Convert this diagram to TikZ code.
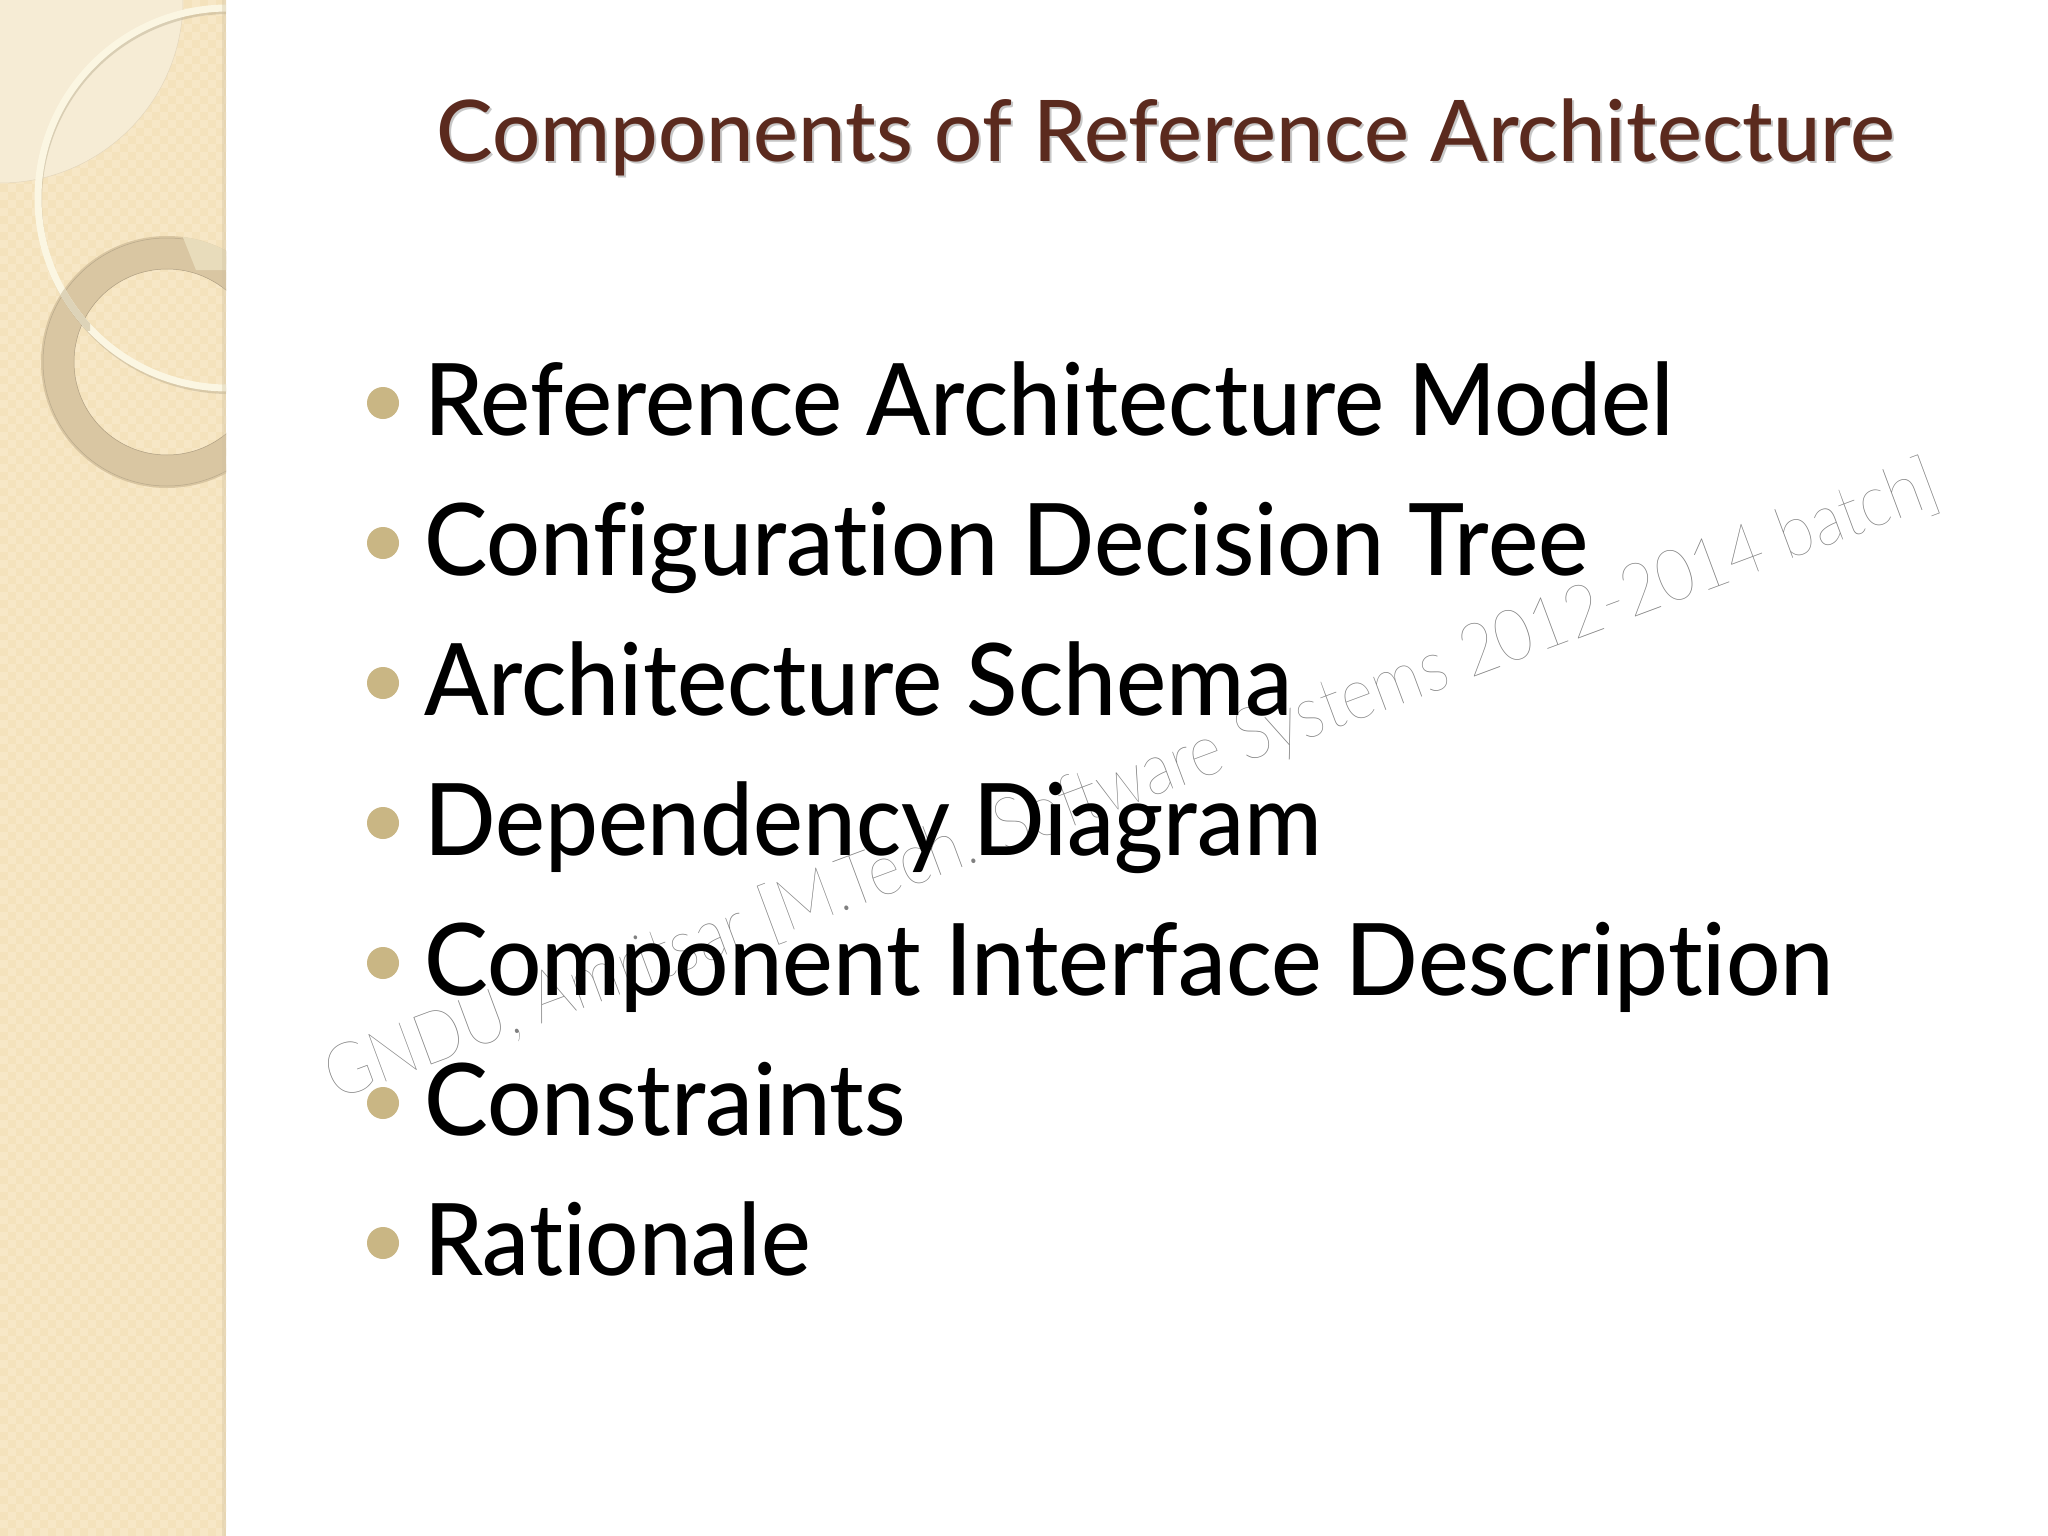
\documentclass[tikz,border=0pt]{standalone}
\usepackage{graphicx}
\usepackage{fontspec}
\setmainfont[Ligatures=NoCommon]{Lato Medium}
\newfontfamily\wmfont{Lato Hairline}
\definecolor{side}{HTML}{F4E2BC}
\definecolor{sidelt}{HTML}{F7E7C6}
\definecolor{corner}{HTML}{F6ECD5}
\definecolor{ringw}{HTML}{FBF6E2}
\definecolor{ringb}{HTML}{D9C6A2}
\definecolor{ringlt}{HTML}{E8DCBB}
\definecolor{ringmix}{HTML}{DDD3B8}
\definecolor{titlec}{HTML}{5B2A1E}
\definecolor{bull}{HTML}{C9B684}
\tikzset{
  item/.style={anchor=base west,inner sep=0pt,font=\fontsize{100}{100}\selectfont,text=black},
  dot/.style={circle,fill=bull,minimum size=32pt,inner sep=0pt},
  titletext/.style={anchor=base west,inner sep=0pt,font=\fontsize{85}{85}\selectfont},
  watermark/.style={anchor=base west,inner sep=0pt,rotate=20.4,text=black!50,font=\wmfont\fontsize{72}{72}\selectfont}
}
\begin{document}
\begin{tikzpicture}[x=1pt,y=-1pt]
\useasboundingbox (0,0) rectangle (2048,1536);
\fill[white] (0,0) rectangle (2048,1536);
\begin{scope}
\clip (0,0) rectangle (226,1536);
\fill[side] (0,0) rectangle (226,1536);
\foreach \i in {0,...,28}{\foreach \j in {0,...,192}{
  \pgfmathtruncatemacro\k{mod(\i+\j,2)}
  \ifnum\k=0 \fill[sidelt] (\i*8,\j*8) rectangle +(8,8); \fi
}}
\fill[corner] (0,0) -- (183,0) arc[start angle=0,end angle=90,radius=183] -- cycle;
\draw[ringb!70,line width=.5pt] (183,0) arc[start angle=0,end angle=90,radius=183];
\fill[ringb,even odd rule] (167,362) circle[radius=126] (167,362) circle[radius=93];
\draw[ringb!80!black,line width=.5pt] (167,362) circle[radius=93];
\draw[ringb!85!black,line width=.5pt] (167,362) circle[radius=124];
\begin{scope}
\clip (180,230) -- (196,270) -- (240,270) -- (240,230) -- cycle;
\fill[ringlt,even odd rule] (167,362) circle[radius=126] (167,362) circle[radius=93];
\end{scope}
\draw[black!25!side,line width=6pt,opacity=.45] (229,201) circle[radius=190];
\draw[ringw,line width=7pt] (228,198) circle[radius=190];
\begin{scope}
\clip (167,362) circle[radius=126];
\clip (60,280) rectangle (90,330);
\draw[ringmix,line width=7pt] (228,198) circle[radius=190];
\end{scope}
\fill[black!15!side,opacity=.35] (222,0) rectangle (226,1536);
\end{scope}
\node[watermark] (wm) at (335,1101) {\scalebox{0.888}[1]{GNDU, Amritsar [M.Tech. Software Systems 2012-2014 batch]}};
\node[titletext,text=black!22] (titleshadow) at (438,164) {\scalebox{.998}[1]{Components of Reference Architecture}};
\node[titletext,text=titlec] (title) at (436,161) {\scalebox{.998}[1]{Components of Reference Architecture}};
\foreach \n/\y/\s/\t in {a/432/.945/Reference Architecture Model,b/572/.95/Configuration Decision Tree,c/712/.947/Architecture Schema,d/852/.941/Dependency Diagram,e/992/.957/Component Interface Description,f/1132/.957/Constraints,g/1272/.938/Rationale}{
  \node[dot] (dot\n) at (383,\y-29) {};
  \node[item] (item\n) at (424,\y+3) {\scalebox{\s}[1]{\t}};
}
\end{tikzpicture}
\end{document}
